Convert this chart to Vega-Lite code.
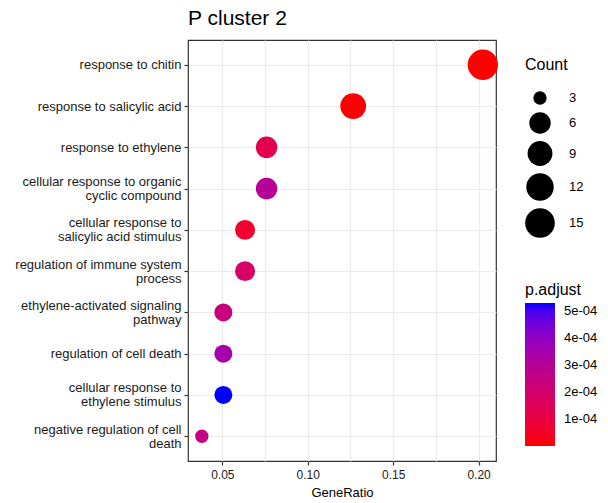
{
  "$schema": "https://vega.github.io/schema/vega-lite/v6.json",
  "width": 308,
  "height": 421,
  "autosize": {"type": "none"},
  "padding": {"left": 188, "top": 40, "right": 112, "bottom": 42},
  "background": "white",
  "title": {
    "text": "P cluster 2",
    "anchor": "start",
    "frame": "group",
    "fontSize": 21,
    "font": "Liberation Sans",
    "fontWeight": "normal",
    "color": "black",
    "offset": 11
  },
  "config": {
    "view": {"stroke": "#333333", "strokeWidth": 1.2},
    "font": "Liberation Sans"
  },
  "data": {
    "values": [
      {"term": "response to chitin", "GeneRatio": 0.2025, "Count": 16, "p_adjust": 0.0000001},
      {"term": "response to salicylic acid", "GeneRatio": 0.1266, "Count": 10, "p_adjust": 0.000003},
      {"term": "response to ethylene", "GeneRatio": 0.0759, "Count": 6, "p_adjust": 0.00013},
      {"term": "cellular response to organic\ncyclic compound", "GeneRatio": 0.0759, "Count": 6, "p_adjust": 0.0003},
      {"term": "cellular response to\nsalicylic acid stimulus", "GeneRatio": 0.0633, "Count": 5, "p_adjust": 0.000065},
      {"term": "regulation of immune system\nprocess", "GeneRatio": 0.0633, "Count": 5, "p_adjust": 0.000185},
      {"term": "ethylene-activated signaling\npathway", "GeneRatio": 0.0506, "Count": 4, "p_adjust": 0.00024},
      {"term": "regulation of cell death", "GeneRatio": 0.0506, "Count": 4, "p_adjust": 0.000345},
      {"term": "cellular response to\nethylene stimulus", "GeneRatio": 0.0506, "Count": 4, "p_adjust": 0.00053},
      {"term": "negative regulation of cell\ndeath", "GeneRatio": 0.038, "Count": 3, "p_adjust": 0.00025}
    ]
  },
  "mark": {"type": "point", "filled": true, "opacity": 1, "shape": "circle"},
  "encoding": {
    "x": {
      "field": "GeneRatio",
      "type": "quantitative",
      "scale": {"domain": [0.0299, 0.2102], "nice": false, "zero": false},
      "axis": {
        "title": "GeneRatio",
        "values": [0.025, 0.05, 0.075, 0.1, 0.125, 0.15, 0.175, 0.2],
        "labelExpr": "abs(datum.value * 20 - round(datum.value * 20)) > 0.01 ? '' : format(datum.value, '.2f')",
        "tickColor": {"condition": {"test": "abs(datum.value * 20 - round(datum.value * 20)) > 0.01", "value": "transparent"}, "value": "#333333"},
        "tickSize": 4,
        "tickWidth": 1.2,
        "labelPadding": 4,
        "labelFontSize": 12,
        "labelColor": "#1a1a1a",
        "labelFont": "Liberation Sans",
        "titleFontSize": 13,
        "titleFontWeight": "normal",
        "titleColor": "black",
        "titleFont": "Liberation Sans",
        "titlePadding": 6,
        "domain": false,
        "grid": true,
        "gridColor": "#EBEBEB",
        "gridWidth": 1.2
      }
    },
    "y": {
      "field": "term",
      "type": "nominal",
      "sort": null,
      "scale": {"type": "point", "padding": 0.6},
      "axis": {
        "title": null,
        "labelExpr": "split(datum.label, '\\n')",
        "labelOffset": {"condition": {"test": "indexof(datum.value, '\\n') >= 0", "value": -7}, "value": 0},
        "labelFontSize": 13,
        "labelColor": "#1a1a1a",
        "labelFont": "Liberation Sans",
        "labelLineHeight": 14,
        "labelPadding": 3,
        "labelLimit": 200,
        "tickSize": 4,
        "tickColor": "#333333",
        "tickWidth": 1.2,
        "domain": false,
        "grid": true,
        "gridColor": "#EBEBEB",
        "gridWidth": 1.2
      }
    },
    "size": {
      "field": "Count",
      "type": "quantitative",
      "scale": {
        "domain": [3, 4, 5, 6, 9, 10, 12, 15, 16],
        "range": [177, 324, 399, 461, 617, 664, 754, 878, 918]
      },
      "legend": {
        "title": "Count",
        "orient": "none",
        "legendX": 337,
        "legendY": 17,
        "values": [3, 6, 9, 12, 15],
        "symbolFillColor": "black",
        "symbolStrokeWidth": 0,
        "symbolType": "circle",
        "titleFontSize": 16,
        "titleFontWeight": "normal",
        "titleColor": "black",
        "titleFont": "Liberation Sans",
        "titlePadding": 18,
        "labelFontSize": 13,
        "labelColor": "black",
        "labelFont": "Liberation Sans",
        "labelOffset": 14,
        "rowPadding": 7
      }
    },
    "color": {
      "field": "p_adjust",
      "type": "quantitative",
      "scale": {
        "domain": [0.0000001, 0.00053],
        "range": ["#FF0000", "#0000FF"],
        "interpolate": "lab",
        "zero": false,
        "nice": false
      },
      "legend": {
        "title": "p.adjust",
        "orient": "none",
        "legendX": 337,
        "legendY": 242,
        "direction": "vertical",
        "gradientLength": 143,
        "gradientThickness": 30,
        "gradientStrokeWidth": 0,
        "values": [0.0001, 0.0002, 0.0003, 0.0004, 0.0005],
        "labelExpr": "replace(format(datum.value, '.0e'), 'e-', 'e-0')",
        "titleFontSize": 16,
        "titleFontWeight": "normal",
        "titleColor": "black",
        "titleFont": "Liberation Sans",
        "titlePadding": 5,
        "labelFontSize": 13,
        "labelColor": "black",
        "labelFont": "Liberation Sans",
        "labelOffset": 9
      }
    }
  }
}
